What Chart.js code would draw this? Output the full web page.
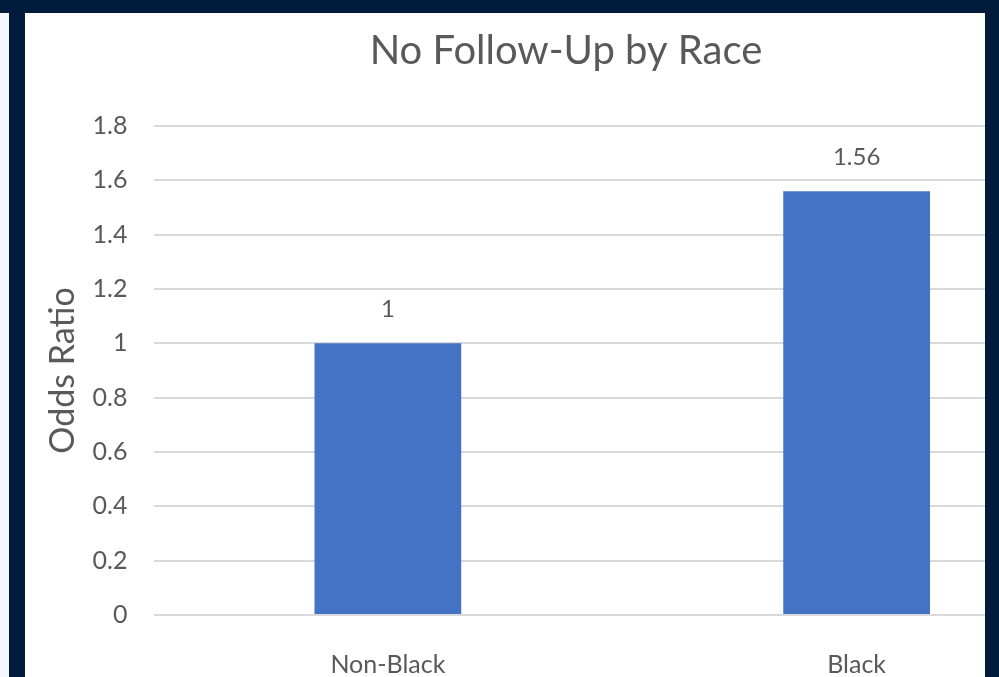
<!DOCTYPE html>
<html lang="en">
<head>
    <meta charset="UTF-8">
    <title>No Follow-Up by Race</title>
    <script src="https://cdn.jsdelivr.net/npm/chart.js"></script>
    <style>
        html, body { margin: 0; padding: 0; overflow: hidden; background: #f3f6fb; }
        #wrap { position: relative; width: 999px; height: 677px; overflow: hidden; }
        #oddsChart { position: absolute; left: 0; top: 0; }
        .frame { position: absolute; background: #011b3d; }
        .sheet { position: absolute; left: 25px; top: 13px; width: 960px; height: 664px; background: #fff; }
    </style>
</head>
<body>
    <div id="wrap">
        <div class="sheet"></div>
        <canvas id="oddsChart" width="1130" height="677"></canvas>
        <div class="frame" style="left:0;top:0;width:999px;height:13px"></div>
        <div class="frame" style="left:9px;top:0;width:16px;height:677px"></div>
        <div class="frame" style="left:985px;top:0;width:14px;height:677px"></div>
    </div>

    <script>
        const races = ['Non-Black', 'Black'];
        const oddsRatios = [1, 1.56];
        const yTicks = [0, 0.2, 0.4, 0.6, 0.8, 1, 1.2, 1.4, 1.6, 1.8];

        const textGrey = '#595959';
        const fontFamily = 'Lato, "Open Sans", sans-serif';

        // value labels above the bars
        const barValues = {
            id: 'barValues',
            afterDatasetsDraw(chart) {
                const ctx = chart.ctx;
                const meta = chart.getDatasetMeta(0);
                ctx.save();
                ctx.font = '24px ' + fontFamily;
                ctx.fillStyle = textGrey;
                ctx.textAlign = 'center';
                ctx.textBaseline = 'bottom';
                meta.data.forEach((bar, i) => {
                    ctx.fillText(String(oddsRatios[i]), bar.x, bar.y - 22);
                });
                ctx.restore();
            }
        };

        new Chart(document.getElementById('oddsChart'), {
            type: 'bar',
            data: {
                labels: races,
                datasets: [{
                    label: 'Odds Ratio',
                    data: oddsRatios,
                    backgroundColor: '#4472c4',
                    categoryPercentage: 1,
                    barPercentage: 0.313
                }]
            },
            options: {
                responsive: false,
                animation: false,
                layout: { padding: { left: 41, top: 13, right: 39, bottom: 0 } },
                plugins: {
                    legend: { display: false },
                    tooltip: { enabled: false },
                    title: {
                        display: true,
                        text: 'No Follow-Up by Race',
                        color: textGrey,
                        font: { family: fontFamily, size: 40, weight: 'normal' },
                        padding: { top: 14, bottom: 51 }
                    }
                },
                scales: {
                    x: {
                        afterFit(scale) { scale.height = 62; },
                        grid: { display: false },
                        border: { display: false },
                        ticks: { color: textGrey, font: { family: fontFamily, size: 25 }, padding: 27 }
                    },
                    y: {
                        min: 0,
                        max: 1.8,
                        afterBuildTicks(scale) {
                            scale.ticks = yTicks.map(v => ({ value: v }));
                        },
                        afterFit(scale) { scale.width = 112.5; },
                        grid: { color: '#d9d9d9', lineWidth: 2, drawTicks: false },
                        border: { display: false },
                        ticks: {
                            color: textGrey,
                            font: { family: fontFamily, size: 25 },
                            padding: 26,
                            callback: value => String(value)
                        },
                        title: {
                            display: true,
                            text: 'Odds Ratio',
                            color: textGrey,
                            font: { family: fontFamily, size: 34 },
                            padding: { top: 2, bottom: 0 }
                        }
                    }
                }
            },
            plugins: [barValues]
        });
    </script>
</body>
</html>
